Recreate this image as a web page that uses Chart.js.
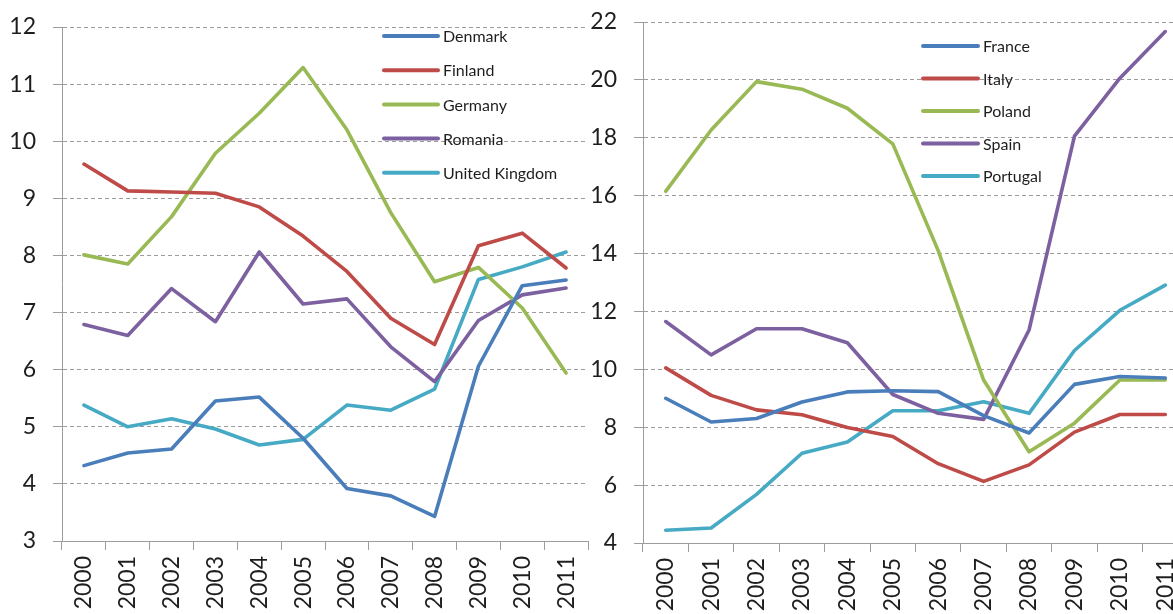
<!DOCTYPE html>
<html>
<head>
<meta charset="utf-8">
<script src="https://cdn.jsdelivr.net/npm/chart.js@4/dist/chart.umd.min.js"></script>
<style>
  html, body { margin: 0; padding: 0; background: #fff; overflow: hidden; width: 1173px; height: 614px; }
  .box { position: absolute; top: 0; height: 614px; }
  #leftBox { left: 0; width: 600px; }
  #rightBox { left: 590px; width: 610px; }
</style>
</head>
<body>
<div class="box" id="leftBox"><canvas id="leftChart" width="600" height="614"></canvas></div>
<div class="box" id="rightBox"><canvas id="rightChart" width="610" height="614"></canvas></div>
<script>
// years on the x axis (both panels)
var years = ['2000', '2001', '2002', '2003', '2004', '2005', '2006', '2007', '2008', '2009', '2010', '2011'];

// left panel
var denmark = [4.32, 4.54, 4.61, 5.45, 5.52, 4.80, 3.92, 3.79, 3.43, 6.06, 7.47, 7.57];
var finland = [9.60, 9.13, 9.11, 9.09, 8.85, 8.34, 7.72, 6.90, 6.44, 8.17, 8.39, 7.78];
var germany = [8.01, 7.85, 8.68, 9.79, 10.49, 11.29, 10.20, 8.75, 7.54, 7.79, 7.08, 5.94];
var romania = [6.79, 6.60, 7.42, 6.84, 8.06, 7.15, 7.24, 6.40, 5.79, 6.86, 7.31, 7.43];
var unitedKingdom = [5.38, 5.00, 5.14, 4.96, 4.68, 4.78, 5.38, 5.29, 5.66, 7.58, 7.80, 8.06];

// right panel
var france = [9.00, 8.18, 8.30, 8.87, 9.22, 9.26, 9.23, 8.40, 7.80, 9.48, 9.75, 9.70];
var italy = [10.05, 9.10, 8.60, 8.43, 7.99, 7.68, 6.74, 6.13, 6.70, 7.83, 8.44, 8.44];
var poland = [16.15, 18.27, 19.94, 19.68, 19.02, 17.79, 14.1, 9.63, 7.15, 8.14, 9.63, 9.63];
var spain = [11.65, 10.50, 11.40, 11.40, 10.92, 9.13, 8.48, 8.27, 11.36, 18.06, 20.06, 21.67];
var portugal = [4.44, 4.52, 5.68, 7.10, 7.49, 8.57, 8.57, 8.88, 8.48, 10.65, 12.04, 12.91];

var leftTicks = { min: 3, max: 12, step: 1 };
var rightTicks = { min: 4, max: 22, step: 2 };

var blue = '#4A7EBB', red = '#BE4B48', green = '#98B954', purple = '#7D60A0', aqua = '#46AAC5';
var gridGray = '#9c9c9c';
var textCol = '#1e1e1e';
var fontName = 'Lato, "Open Sans", sans-serif';

Chart.defaults.font.family = fontName;
Chart.defaults.color = textCol;

// legend drawn inside the plot, vertical list, like the excel original
var innerLegend = {
    id: 'innerLegend',
    afterDraw: function(chart) {
        var o = chart.options.plugins.innerLegend;
        var ctx = chart.ctx;
        var area = chart.chartArea;
        ctx.save();
        ctx.font = '16px ' + fontName;
        ctx.textBaseline = 'middle';
        ctx.lineCap = 'round';
        chart.data.datasets.forEach(function(ds, i) {
            var x = area.left + o.dx;
            var y = area.top + o.dy + i * o.rowGap;
            ctx.strokeStyle = ds.borderColor;
            ctx.lineWidth = 4;
            ctx.beginPath();
            ctx.moveTo(x, y);
            ctx.lineTo(x + o.lineLen, y);
            ctx.stroke();
            ctx.fillStyle = textCol;
            ctx.fillText(ds.label, x + o.lineLen + 5, y + 1);
        });
        ctx.restore();
    }
};

function makeSet(label, data, color) {
    return {
        label: label,
        data: data,
        borderColor: color,
        backgroundColor: color,
        borderWidth: 3.6,
        pointRadius: 0,
        tension: 0,
        borderCapStyle: 'round',
        borderJoinStyle: 'round'
    };
}

function makeChart(id, sets, t, yWidth, xHeight, padTop, padRight, legendOpts) {
    var ctx = document.getElementById(id).getContext('2d');
    return new Chart(ctx, {
        type: 'line',
        data: { labels: years, datasets: sets },
        options: {
            responsive: false,
            animation: false,
            layout: { autoPadding: false, padding: { top: padTop, right: padRight, left: 0, bottom: 0 } },
            plugins: {
                legend: { display: false },
                tooltip: { enabled: false },
                innerLegend: legendOpts
            },
            scales: {
                x: {
                    offset: true,
                    grid: { offset: true, drawOnChartArea: false, drawTicks: true, tickLength: 9, color: gridGray },
                    border: { display: true, color: gridGray, width: 1 },
                    ticks: { autoSkip: false, minRotation: 90, maxRotation: 90, padding: 6, font: { size: 23 } },
                    afterFit: function(scale) {
                        scale.height = xHeight;
                        scale.paddingLeft = 0;
                        scale.paddingRight = 0;
                    }
                },
                y: {
                    min: t.min,
                    max: t.max,
                    grid: { color: gridGray, lineWidth: 1, drawTicks: true, tickLength: 9 },
                    border: { display: true, color: gridGray, width: 1, dash: [4, 3] },
                    ticks: { stepSize: t.step, padding: 17, font: { size: 23 } },
                    afterFit: function(scale) {
                        scale.width = yWidth;
                        // keep the plot top where the padding puts it
                        scale.paddingTop = 0;
                        scale.paddingBottom = 0;
                    }
                }
            }
        },
        plugins: [innerLegend]
    });
}

makeChart('leftChart', [
    makeSet('Denmark', denmark, blue),
    makeSet('Finland', finland, red),
    makeSet('Germany', germany, green),
    makeSet('Romania', romania, purple),
    makeSet('United Kingdom', unitedKingdom, aqua)
], leftTicks, 62, 73, 27, 12, { dx: 322, dy: 9, rowGap: 34.2, lineLen: 54 });

makeChart('rightChart', [
    makeSet('France', france, blue),
    makeSet('Italy', italy, red),
    makeSet('Poland', poland, green),
    makeSet('Spain', spain, purple),
    makeSet('Portugal', portugal, aqua)
], rightTicks, 53, 71, 22, 12, { dx: 280, dy: 24, rowGap: 32.5, lineLen: 55 });
</script>
</body>
</html>
